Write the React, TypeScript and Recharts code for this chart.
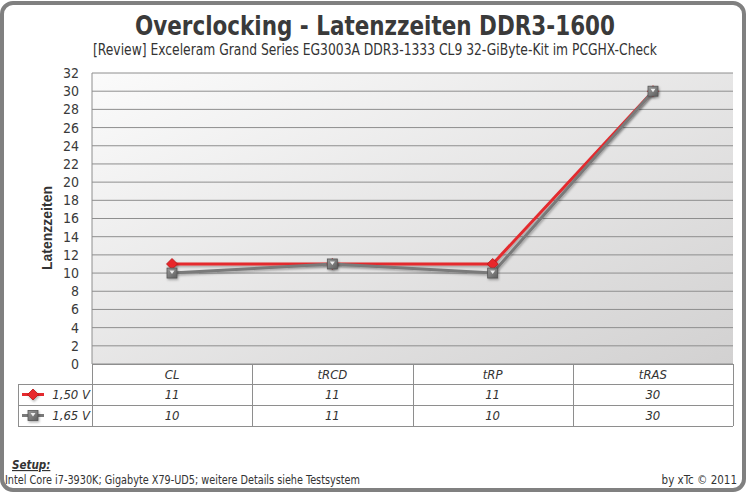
import React from 'react';
import { LineChart, Line, XAxis, YAxis, CartesianGrid } from 'recharts';

// latency timings per voltage
const categories = ['CL', 'tRCD', 'tRP', 'tRAS'];
const timings150 = [11, 11, 11, 30];
const timings165 = [10, 11, 10, 30];
const seriesNames = ['1,50 V', '1,65 V'];
const yTicks = [0, 2, 4, 6, 8, 10, 12, 14, 16, 18, 20, 22, 24, 26, 28, 30, 32];

const data = categories.map((name, i) => ({ name, v150: timings150[i], v165: timings165[i] }));

const W = 749;
const H = 493;
const PLOT_L = 92;
const PLOT_R = 733;
const PLOT_T = 73;
const PLOT_B = 364;
const LEG_L = 18;
const ROW_H = [20, 21, 21];

const FONT = '"DejaVu Sans Condensed", "Liberation Sans Narrow", "Liberation Sans", sans-serif';
const RED = '#e42a2e';
const GREY = '#7a7a7a';
const GRID = '#8e8e8e';
const TEXT = '#333';

const Diamond = ({ cx, cy }: any) => {
  if (cx == null || cy == null) return null;
  return (
    <path
      d={`M${cx},${cy - 5.5} L${cx + 5.5},${cy} L${cx},${cy + 5.5} L${cx - 5.5},${cy} Z`}
      fill="#e8262a"
      stroke="#b81818"
      strokeWidth={0.8}
      filter="url(#shadow)"
    />
  );
};

const Square = ({ cx, cy }: any) => {
  if (cx == null || cy == null) return null;
  return (
    <g filter="url(#shadow)">
      <rect x={cx - 5} y={cy - 5} width={10} height={10} fill="url(#sqGrad)" stroke="#555" strokeWidth={0.8} />
      <path d={`M${cx - 2.5},${cy - 2.5} L${cx + 2.5},${cy - 2.5} L${cx},${cy + 1} Z`} fill="#eeeeee" />
    </g>
  );
};

const LegendIcon = ({ kind, x, y }: { kind: number; x: number; y: number }) => (
  <g>
    <line x1={x} y1={y} x2={x + 22} y2={y} stroke={kind === 0 ? RED : GREY} strokeWidth={3} />
    {kind === 0 ? <Diamond cx={x + 11} cy={y} /> : <Square cx={x + 11} cy={y} />}
  </g>
);

// titles, axis caption, data table and footer drawn over the chart
const Overlay = () => {
  const colW = (PLOT_R - PLOT_L) / categories.length;
  const y0 = PLOT_B;
  const y1 = y0 + ROW_H[0];
  const y2 = y1 + ROW_H[1];
  const y3 = y2 + ROW_H[2];
  const rows = [timings150, timings165];
  const cell = { fontFamily: FONT, fontStyle: 'italic', fontSize: 13, fill: TEXT } as const;
  const plain = { fontFamily: FONT, fill: TEXT } as const;
  return (
    <svg width={W} height={H} style={{ position: 'absolute', left: 0, top: 0 }}>
      <text x={375} y={35} textAnchor="middle" textLength={480} lengthAdjust="spacingAndGlyphs"
        style={{ ...plain, fontSize: 27, fontWeight: 'bold', fill: '#3a3a3a' }}>
        Overclocking - Latenzzeiten DDR3-1600
      </text>
      <text x={375} y={55} textAnchor="middle" textLength={564} lengthAdjust="spacingAndGlyphs"
        style={{ ...plain, fontSize: 15 }}>
        [Review] Exceleram Grand Series  EG3003A DDR3-1333 CL9 32-GiByte-Kit im PCGHX-Check
      </text>
      <text x={0} y={0} transform="translate(52,228) rotate(-90)" textAnchor="middle" textLength={84} lengthAdjust="spacingAndGlyphs"
        style={{ fontFamily: '"Liberation Sans", sans-serif', fontWeight: 'bold', fontSize: 14, fill: TEXT }}>
        Latenzzeiten
      </text>

      <g stroke={GRID} strokeWidth={1} shapeRendering="crispEdges">
        <line x1={PLOT_L} y1={y0 + 0.5} x2={PLOT_R} y2={y0 + 0.5} />
        <line x1={LEG_L} y1={y1 + 0.5} x2={PLOT_R} y2={y1 + 0.5} />
        <line x1={LEG_L} y1={y2 + 0.5} x2={PLOT_R} y2={y2 + 0.5} />
        <line x1={LEG_L} y1={y3 + 0.5} x2={PLOT_R} y2={y3 + 0.5} />
        <line x1={LEG_L + 0.5} y1={y1} x2={LEG_L + 0.5} y2={y3} />
        {categories.concat(['']).map((_, i) => (
          <line key={i} x1={Math.round(PLOT_L + i * colW) + 0.5} y1={y0} x2={Math.round(PLOT_L + i * colW) + 0.5} y2={y3} />
        ))}
      </g>
      {categories.map((c, i) => (
        <text key={c} x={PLOT_L + (i + 0.5) * colW} y={y0 + 15} textAnchor="middle" style={cell}>{c}</text>
      ))}
      {rows.map((vals, r) => {
        const top = r === 0 ? y1 : y2;
        return (
          <g key={r}>
            <LegendIcon kind={r} x={LEG_L + 4} y={top + 10.5} />
            <text x={PLOT_L - 2} y={top + 15} textAnchor="end" style={cell}>{seriesNames[r]}</text>
            {vals.map((v, i) => (
              <text key={i} x={PLOT_L + (i + 0.5) * colW} y={top + 15} textAnchor="middle" style={cell}>{v}</text>
            ))}
          </g>
        );
      })}

      <text x={12} y={469}
        style={{ ...plain, fontSize: 11.5, fontWeight: 'bold', fontStyle: 'italic', textDecoration: 'underline' }}>
        Setup:
      </text>
      <text x={5} y={484} textLength={355} lengthAdjust="spacingAndGlyphs" style={{ ...plain, fontSize: 11.5 }}>
        Intel Core i7-3930K; Gigabyte X79-UD5; weitere Details siehe Testsystem
      </text>
      <text x={737} y={484} textAnchor="end" style={{ ...plain, fontSize: 11.5 }}>
        by xTc © 2011
      </text>
    </svg>
  );
};

export default function App() {
  return (
    <div style={{ position: 'fixed', left: 0, top: 0, width: W, height: H, background: '#fff' }}>
      <svg width={0} height={0} style={{ position: 'absolute' }}>
        <defs>
          <linearGradient id="bgGrad" x1="0" y1="0" x2="1" y2="1">
            <stop offset="0%" stopColor="#fbfbfb" />
            <stop offset="100%" stopColor="#d2d1d1" />
          </linearGradient>
          <linearGradient id="sqGrad" x1="0" y1="0" x2="1" y2="1">
            <stop offset="0%" stopColor="#9a9a9a" />
            <stop offset="100%" stopColor="#5e5e5e" />
          </linearGradient>
          <filter id="shadow" x="-50%" y="-50%" width="200%" height="200%">
            <feDropShadow dx={1} dy={1.5} stdDeviation={1} floodColor="#000" floodOpacity={0.3} />
          </filter>
        </defs>
      </svg>
      <div style={{ position: 'absolute', left: 0, top: 1, width: W - 11, height: H - 10, border: '4px solid #808080', borderRadius: 13 }} />
      <div style={{ position: 'absolute', left: 0, top: 0 }}>
        <LineChart width={W} height={430} data={data} margin={{ top: PLOT_T, right: W - PLOT_R, bottom: 430 - PLOT_B, left: 12 }}>
          <CartesianGrid vertical={false} stroke={GRID} fill="url(#bgGrad)" fillOpacity={1} />
          <XAxis dataKey="name" hide padding={{ left: 80, right: 80 }} />
          <YAxis
            width={PLOT_L - 12}
            domain={[0, 32]}
            ticks={yTicks}
            interval={0}
            tickLine={false}
            axisLine={{ stroke: GRID }}
            tick={{ fill: '#3a3a3a', fontSize: 14, fontFamily: FONT }}
            tickMargin={7}
          />
          <Line dataKey="v150" stroke={RED} strokeWidth={3} dot={<Diamond />} isAnimationActive={false} filter="url(#shadow)" />
          <Line dataKey="v165" stroke={GREY} strokeWidth={3} dot={<Square />} isAnimationActive={false} filter="url(#shadow)" />
        </LineChart>
      </div>
      <Overlay />
    </div>
  );
}
